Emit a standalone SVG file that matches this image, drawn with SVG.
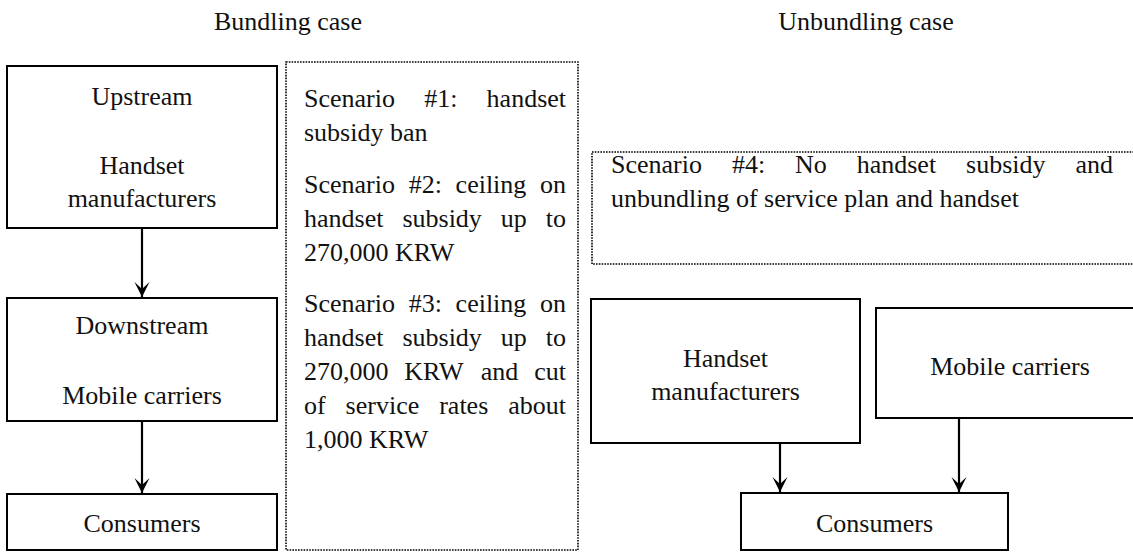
<svg xmlns="http://www.w3.org/2000/svg" width="1133" height="552" viewBox="0 0 1133 552">
<defs>
<style>
text{font-family:"Liberation Serif","Times New Roman",serif;font-size:26px;fill:#111}
.c{text-anchor:middle}
.box{fill:#fff;stroke:#000;stroke-width:2}
.dot{fill:none;stroke:#000;stroke-width:1.6;stroke-dasharray:1.6 1.2}
.arr{stroke:#000;stroke-width:2.2;fill:none}
</style>
<marker id="ah" viewBox="-16 -8 17 16" refX="0" refY="0" markerWidth="17" markerHeight="16" markerUnits="userSpaceOnUse" orient="auto">
<path d="M0,0 L-15,-7.5 L-8,0 L-15,7.5 Z" fill="#000"/>
</marker>
</defs>
<rect width="1133" height="552" fill="#fff"/>

<g id="headers">
<text class="c" x="288" y="30">Bundling case</text>
<text class="c" x="866" y="30">Unbundling case</text>
</g>

<g id="upstream">
<rect class="box" x="7" y="66" width="270" height="162"/>
<text class="c" x="142" y="105">Upstream</text>
<text class="c" x="142" y="174">Handset</text>
<text class="c" x="142" y="207">manufacturers</text>
</g>

<g id="downstream">
<rect class="box" x="7" y="298" width="270" height="123"/>
<text class="c" x="142" y="334">Downstream</text>
<text class="c" x="142" y="404">Mobile carriers</text>
</g>

<g id="consumers-bundling">
<rect class="box" x="7" y="494" width="270" height="56"/>
<text class="c" x="142" y="532">Consumers</text>
</g>

<g id="scenarios-bundling">
<rect class="dot" x="286" y="62" width="292" height="488"/>
<text y="107"><tspan x="304">Scenario</tspan><tspan x="424.2">#1:</tspan><tspan x="486.6">handset</tspan></text>
<text x="304" y="141">subsidy ban</text>
<text y="193"><tspan x="304">Scenario</tspan><tspan x="408.7">#2:</tspan><tspan x="455.6">ceiling</tspan><tspan x="540">on</tspan></text>
<text y="227"><tspan x="304">handset</tspan><tspan x="402.4">subsidy</tspan><tspan x="500.8">up</tspan><tspan x="545.8">to</tspan></text>
<text x="304" y="261">270,000 KRW</text>
<text y="312"><tspan x="304">Scenario</tspan><tspan x="408.7">#3:</tspan><tspan x="455.6">ceiling</tspan><tspan x="540">on</tspan></text>
<text y="346"><tspan x="304">handset</tspan><tspan x="402.4">subsidy</tspan><tspan x="500.8">up</tspan><tspan x="545.8">to</tspan></text>
<text y="380"><tspan x="304">270,000</tspan><tspan x="404.3">KRW</tspan><tspan x="480.8">and</tspan><tspan x="534.2">cut</tspan></text>
<text y="414"><tspan x="304">of</tspan><tspan x="345.6">service</tspan><tspan x="439.2">rates</tspan><tspan x="508.2">about</tspan></text>
<text x="304" y="448">1,000 KRW</text>
</g>

<g id="scenario4">
<rect class="dot" x="592" y="152" width="560" height="112"/>
<text y="173"><tspan x="611">Scenario</tspan><tspan x="731.9">#4:</tspan><tspan x="795">No</tspan><tspan x="856.7">handset</tspan><tspan x="966.1">subsidy</tspan><tspan x="1075.5">and</tspan></text>
<text x="611" y="207">unbundling of service plan and handset</text>
</g>

<g id="handset-manufacturers">
<rect class="box" x="591" y="299" width="269" height="144"/>
<text class="c" x="725.5" y="367">Handset</text>
<text class="c" x="725.5" y="400">manufacturers</text>
</g>

<g id="mobile-carriers">
<rect class="box" x="876" y="308" width="268" height="110"/>
<text class="c" x="1010" y="375">Mobile carriers</text>
</g>

<g id="consumers-unbundling">
<rect class="box" x="741" y="493" width="267" height="57"/>
<text class="c" x="874.5" y="532">Consumers</text>
</g>

<g id="connectors">
<line class="arr" x1="142" y1="228" x2="142" y2="297" marker-end="url(#ah)"/>
<line class="arr" x1="142" y1="421" x2="142" y2="493" marker-end="url(#ah)"/>
<line class="arr" x1="780" y1="443" x2="780" y2="492" marker-end="url(#ah)"/>
<line class="arr" x1="959" y1="418" x2="959" y2="492" marker-end="url(#ah)"/>
</g>
</svg>
